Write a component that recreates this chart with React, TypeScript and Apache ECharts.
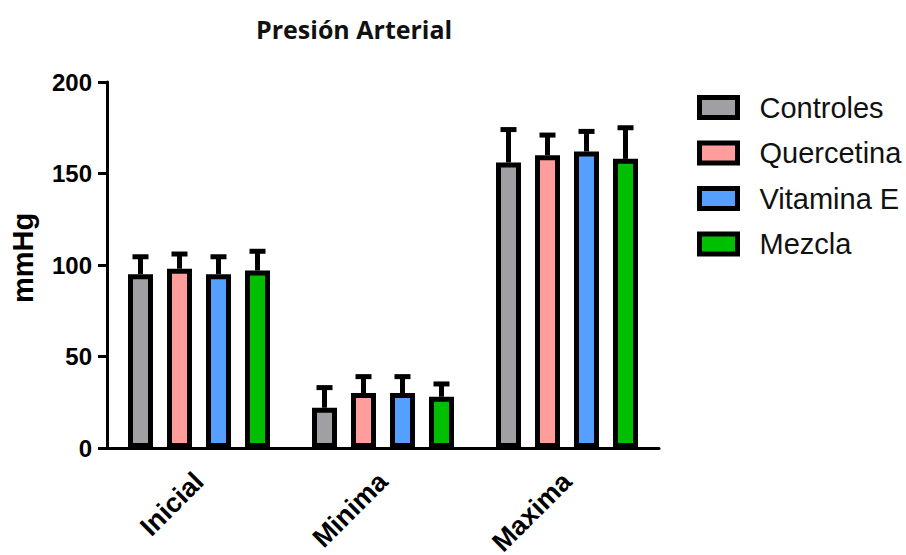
import React, { useEffect, useRef } from "react";
import * as echarts from "echarts";

// Blood pressure (mmHg) per phase and treatment group: mean and upper SEM
const categories = ["Inicial", "Minima", "Maxima"];
const groupNames = ["Controles", "Quercetina", "Vitamina E", "Mezcla"];

const controles = [95, 22, 156];
const controlesErr = [9.5, 11, 18];
const quercetina = [98, 30, 160];
const quercetinaErr = [8, 9, 11];
const vitaminaE = [95, 30, 162];
const vitaminaEErr = [9.5, 9, 11];
const mezcla = [97, 28, 158];
const mezclaErr = [10.5, 7, 17];

const yTicks = { min: 0, max: 200, interval: 50 };
const yAxisTitle = "mmHg";

const groupMeans = [controles, quercetina, vitaminaE, mezcla];
const groupErrs = [controlesErr, quercetinaErr, vitaminaEErr, mezclaErr];
const groupColors = ["#A0A0A4", "#FF9C9C", "#55A0FF", "#00BE00"];

const BAR_WIDTH = 25;
const BAR_GAP_PX = 14;
const PITCH = BAR_WIDTH + BAR_GAP_PX;
const AXIS_FONT = "'Liberation Sans', Arial, sans-serif";

export default function App() {
  const ref = useRef<HTMLDivElement>(null);

  useEffect(() => {
    if (!ref.current) return;
    const chart = echarts.init(ref.current, null, { renderer: "svg" });

    const barSeries = groupNames.map((name, i) => ({
      name,
      type: "bar",
      data: groupMeans[i],
      barWidth: BAR_WIDTH,
      barGap: `${(BAR_GAP_PX / BAR_WIDTH) * 100}%`,
      itemStyle: { color: groupColors[i], borderColor: "#000", borderWidth: 5 },
      z: 2,
    }));

    const errorSeries = groupNames.map((name, i) => {
      const offset = (i - (groupNames.length - 1) / 2) * PITCH;
      return {
        name: `${name} SEM`,
        type: "custom",
        encode: { x: 0, y: 1 },
        z: 1,
        data: categories.map((_, c) => [c, groupMeans[i][c], groupErrs[i][c]]),
        renderItem: (_params: any, api: any) => {
          const cat = api.value(0);
          const mean = api.value(1);
          const err = api.value(2);
          const base = api.coord([cat, mean]);
          const top = api.coord([cat, mean + err]);
          const x = base[0] + offset;
          const style = { stroke: "#000", lineWidth: 5 };
          return {
            type: "group",
            children: [
              { type: "line", shape: { x1: x, y1: base[1], x2: x, y2: top[1] }, style },
              { type: "line", shape: { x1: x - 8, y1: top[1], x2: x + 8, y2: top[1] }, style },
            ],
          };
        },
      };
    });

    chart.setOption({
      animation: false,
      backgroundColor: "#fff",
      title: {
        text: "Presión Arterial",
        left: 251,
        top: 11,
        textStyle: {
          fontFamily: "'Open Sans', sans-serif",
          fontWeight: "bold",
          fontSize: 25,
          color: "#111",
        },
      },
      legend: {
        data: groupNames,
        orient: "vertical",
        left: 692,
        top: 88,
        icon: "rect",
        itemWidth: 38,
        itemHeight: 20,
        itemGap: 16.5,
        itemStyle: { borderColor: "#000", borderWidth: 5 },
        textStyle: {
          fontFamily: AXIS_FONT,
          fontSize: 29,
          lineHeight: 26,
          color: "#111",
          padding: [0, 0, 0, 17],
        },
      },
      // vertical y-axis title, left of the tick labels
      graphic: [
        {
          type: "text",
          x: 23,
          y: 258,
          rotation: Math.PI / 2,
          style: {
            text: yAxisTitle,
            align: "center",
            verticalAlign: "middle",
            fontFamily: AXIS_FONT,
            fontWeight: "bold",
            fontSize: 29,
            fill: "#000",
          },
        },
      ],
      grid: { left: 107, right: 247, top: 82, bottom: 107, outerBoundsMode: "none" },
      xAxis: {
        type: "category",
        data: categories,
        axisLine: { lineStyle: { color: "#000", width: 3 } },
        axisTick: { alignWithLabel: true, length: 12, lineStyle: { width: 3, color: "#000" } },
        axisLabel: {
          rotate: 45,
          margin: 29,
          fontFamily: AXIS_FONT,
          fontWeight: "bold",
          fontSize: 27,
          color: "#000",
        },
      },
      yAxis: {
        type: "value",
        min: yTicks.min,
        max: yTicks.max,
        interval: yTicks.interval,
        splitLine: { show: false },
        axisLine: { show: true, lineStyle: { color: "#000", width: 3 } },
        axisTick: { show: true, length: 9, lineStyle: { width: 3, color: "#000" } },
        axisLabel: {
          margin: 15,
          fontFamily: AXIS_FONT,
          fontWeight: "bold",
          fontSize: 24,
          color: "#000",
        },
      },
      series: [...barSeries, ...errorSeries],
    });

    return () => chart.dispose();
  }, []);

  return (
    <div
      ref={ref}
      style={{ position: "fixed", left: 0, top: 0, width: 906, height: 555, background: "#fff" }}
    />
  );
}
